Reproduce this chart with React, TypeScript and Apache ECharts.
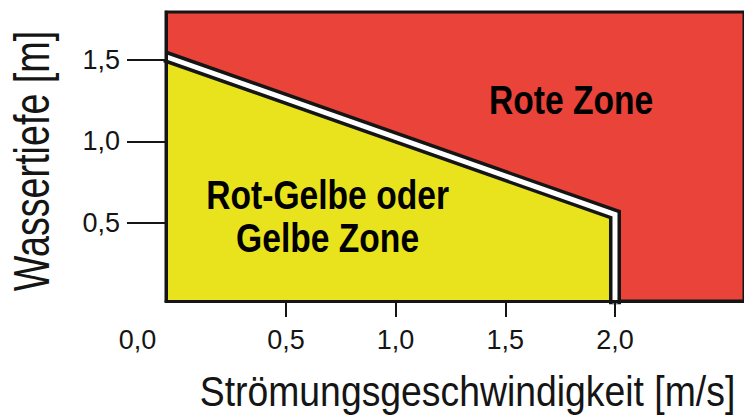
import React, { useEffect, useRef } from "react";
import * as echarts from "echarts";

// Tick values (labels shown with a decimal comma)
const velocityTicks = [0.5, 1.0, 1.5, 2.0];
const depthTicks = [0.5, 1.0, 1.5];
const originLabel = "0,0";

// Boundary between the zones: velocity [m/s] and water depth [m]
const boundaryVelocity = [-0.05, 2.0, 2.0];
const boundaryDepth = [1.52, 0.55, 0];

// Zone labels, placed at data coordinates
const zoneNames = ["Rote Zone", "Rot-Gelbe oder\nGelbe Zone"];
const zoneVelocity = [1.8, 0.69];
const zoneDepth = [1.255, 0.54];

const xTitle = "Strömungsgeschwindigkeit [m/s]";
const yTitle = "Wassertiefe [m]";

const RED = "#E9433A";
const YELLOW = "#E8E31C";
const INK = "#151515";
const SANS = "'Liberation Sans', Arial, Helvetica, sans-serif";

const fmt = (v: number) => v.toFixed(1).replace(".", ",");

export default function App() {
  const ref = useRef<HTMLDivElement>(null);
  useEffect(() => {
    if (!ref.current) return;
    const chart = echarts.init(ref.current, null, { renderer: "svg" });
    const boundary = boundaryVelocity.map((v, i) => [v, boundaryDepth[i]]);
    chart.setOption({
      animation: false,
      grid: {
        left: 166,
        right: -5,
        top: 12,
        bottom: 118,
        show: true,
        backgroundColor: RED,
        borderColor: INK,
        borderWidth: 3,
      },
      xAxis: {
        type: "value",
        min: -0.0465,
        max: 2.588,
        z: 5,
        splitLine: { show: false },
        axisLine: { show: true, onZero: false, lineStyle: { color: INK, width: 3 } },
        axisTick: {
          show: true,
          customValues: velocityTicks,
          length: 16,
          lineStyle: { color: INK, width: 2 },
        },
        axisLabel: {
          customValues: velocityTicks,
          formatter: (v: number) => fmt(v),
          margin: 25,
          fontFamily: SANS,
          fontSize: 27,
          color: INK,
        },
      },
      yAxis: {
        type: "value",
        min: 0.02,
        max: 1.793,
        z: 5,
        splitLine: { show: false },
        axisLine: { show: true, onZero: false, lineStyle: { color: INK, width: 3 } },
        axisTick: {
          show: true,
          customValues: depthTicks,
          length: 39,
          lineStyle: { color: INK, width: 2 },
        },
        axisLabel: {
          customValues: depthTicks,
          formatter: (v: number) => fmt(v),
          margin: 46,
          fontFamily: SANS,
          fontSize: 27,
          color: INK,
        },
      },
      series: [
        {
          type: "line",
          data: boundary,
          symbol: "none",
          lineStyle: { width: 0, opacity: 0 },
          areaStyle: { color: YELLOW, opacity: 1, origin: "start" },
          z: 2,
        },
        {
          type: "line",
          data: boundary,
          symbol: "none",
          lineStyle: { color: INK, width: 12, join: "miter", cap: "butt" },
          z: 3,
        },
        {
          type: "line",
          data: boundary,
          symbol: "none",
          lineStyle: { color: "#ffffff", width: 5, join: "miter", cap: "butt" },
          z: 4,
        },
      ],
    });

    const zonePx = zoneNames.map((_, i) =>
      chart.convertToPixel({ gridIndex: 0 }, [zoneVelocity[i], zoneDepth[i]]) as number[]
    );

    chart.setOption({
      graphic: [
        ...zoneNames.map((name, i) => ({
          type: "text",
          x: zonePx[i][0],
          y: zonePx[i][1],
          scaleX: 0.82,
          z: 10,
          style: {
            text: name,
            fontFamily: SANS,
            fontWeight: "bold",
            fontSize: 41,
            lineHeight: 43,
            fill: "#000",
            textAlign: "center",
            textVerticalAlign: "middle",
          },
        })),
        {
          type: "text",
          x: 137.5,
          y: 326,
          style: {
            text: originLabel,
            fontFamily: SANS,
            fontSize: 27,
            fill: INK,
            textAlign: "center",
            textVerticalAlign: "top",
          },
        },
        {
          type: "text",
          x: 467.5,
          y: 392,
          scaleX: 0.934,
          scaleY: 1.07,
          style: {
            text: xTitle,
            fontFamily: SANS,
            fontSize: 40,
            fill: INK,
            textAlign: "center",
            textVerticalAlign: "middle",
          },
        },
        {
          type: "text",
          x: 31,
          y: 161,
          rotation: Math.PI / 2,
          scaleX: 0.857,
          scaleY: 1.14,
          style: {
            text: yTitle,
            fontFamily: SANS,
            fontSize: 44,
            fill: INK,
            textAlign: "center",
            textVerticalAlign: "middle",
          },
        },
      ],
    });
    return () => chart.dispose();
  }, []);
  return (
    <div
      ref={ref}
      style={{ position: "fixed", left: 0, top: 0, width: 744, height: 419, background: "#fff" }}
    />
  );
}
